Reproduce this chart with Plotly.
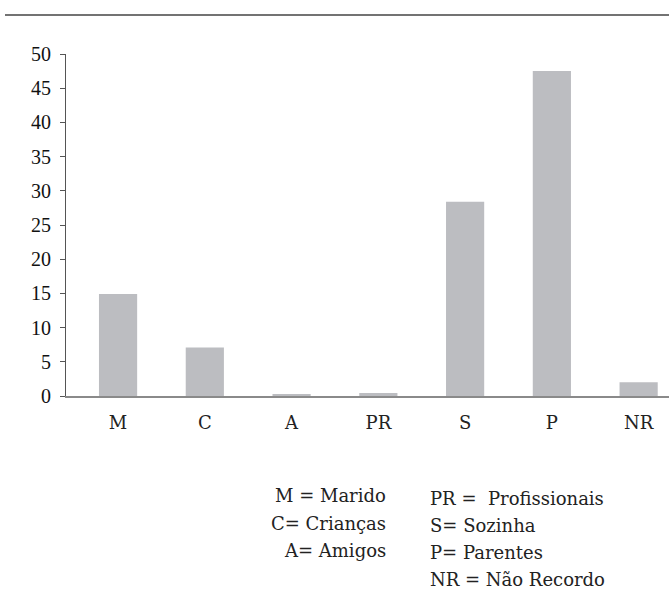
import plotly.graph_objects as go

categories = ["M", "C", "A", "PR", "S", "P", "NR"]
values = [14.9, 7.1, 0.15, 0.45, 28.4, 47.5, 2.0]
y_ticks = [0, 5, 10, 15, 20, 25, 30, 35, 40, 45, 50]

legend_left = ["M = Marido", "C= Crianças", "A= Amigos"]
legend_right = ["PR =  Profissionais", "S= Sozinha", "P= Parentes", "NR = Não Recordo"]

fig = go.Figure(go.Bar(
    x=categories, y=values, width=0.44,
    marker=dict(color="#bcbdc1", line=dict(width=0)),
))

serif = "DejaVu Serif"
W, H = 669, 596
L, T, B = 66, 54, 200
PW, PH = W - L, H - T - B

fig.update_layout(
    width=W, height=H,
    margin=dict(l=L, r=0, t=T, b=B),
    paper_bgcolor="white", plot_bgcolor="white",
    showlegend=False,
    font=dict(family=serif, color="#222"),
    xaxis=dict(
        type="category", range=[-0.6, 6.35],
        showline=True, linecolor="#8a8a8a", linewidth=2,
        ticks="", showgrid=False, zeroline=False,
        tickfont=dict(family=serif, size=18, color="#222"),
        ticklabelstandoff=9,
    ),
    yaxis=dict(
        range=[0, 50], tickvals=y_ticks,
        showline=True, linecolor="#555", linewidth=1,
        ticks="outside", ticklen=5, tickcolor="#555",
        showgrid=False, zeroline=False,
        tickfont=dict(family="Liberation Serif", size=20, color="#111"),
        ticklabelstandoff=5,
    ),
)

# top rule
ry = (H - 15 - B) / PH
fig.add_shape(type="line", xref="paper", yref="paper",
              x0=(5 - L) / PW, x1=1.0, y0=ry, y1=ry,
              line=dict(color="#444", width=1.5))

left_y = [495, 523, 550]
for txt, py in zip(legend_left, left_y):
    fig.add_annotation(text=txt, xref="paper", yref="paper",
                       x=(388 - L) / PW, y=(H - B - py) / PH,
                       xanchor="right", yanchor="middle", showarrow=False,
                       font=dict(family=serif, size=18, color="#222"))
right_y = [498, 525, 552, 579]
for txt, py in zip(legend_right, right_y):
    fig.add_annotation(text=txt, xref="paper", yref="paper",
                       x=(428 - L) / PW, y=(H - B - py) / PH,
                       xanchor="left", yanchor="middle", showarrow=False,
                       font=dict(family=serif, size=18, color="#222"))

fig.write_html("out.html", config={"displayModeBar": False},
               post_script="document.body.style.margin='0px';")
